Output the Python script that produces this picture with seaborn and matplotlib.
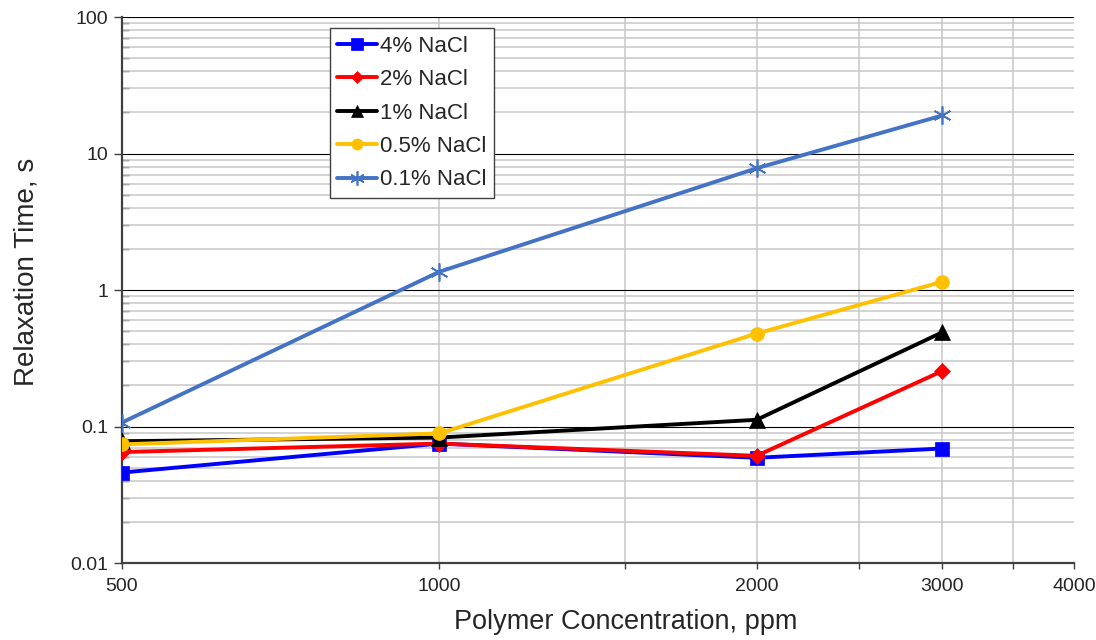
import numpy as np
import pandas as pd
import matplotlib
matplotlib.use("Agg")
import matplotlib.pyplot as plt
import seaborn as sns
from matplotlib.ticker import FixedLocator, NullFormatter, FixedFormatter

# Polymer concentration (ppm) and relaxation time (s) for each brine salinity
concentration = [500, 1000, 2000, 3000]
nacl_4 = [0.046, 0.075, 0.059, 0.069]
nacl_2 = [0.065, 0.075, 0.061, 0.255]
nacl_1 = [0.078, 0.083, 0.112, 0.49]
nacl_05 = [0.074, 0.089, 0.48, 1.15]
nacl_01 = [0.107, 1.36, 7.8, 19.0]

series_labels = ["4% NaCl", "2% NaCl", "1% NaCl", "0.5% NaCl", "0.1% NaCl"]
x_tick_values = [500, 1000, 2000, 3000, 4000]
x_tick_labels = ["500", "1000", "2000", "3000", "4000"]
y_tick_values = [0.01, 0.1, 1, 10, 100]
y_tick_labels = ["0.01", "0.1", "1", "10", "100"]

df = pd.DataFrame({
    "conc": concentration * 5,
    "tau": nacl_4 + nacl_2 + nacl_1 + nacl_05 + nacl_01,
    "series": sum([[s] * len(concentration) for s in series_labels], []),
})

sns.set_theme(style="white")
plt.rcParams["font.family"] = ["Liberation Sans", "DejaVu Sans"]

fig = plt.figure(figsize=(10.96, 6.4), dpi=100)
ax = fig.add_axes([0.1113, 0.1203, 0.8686, 0.8531])

styles = {
    "4% NaCl": dict(color="#0000FF", marker="s", markersize=10),
    "2% NaCl": dict(color="#FF0000", marker="D", markersize=8),
    "1% NaCl": dict(color="#000000", marker="^", markersize=11),
    "0.5% NaCl": dict(color="#FFC000", marker="o", markersize=10),
    "0.1% NaCl": dict(color="#4472C4", marker=(6, 2, 0), markersize=13, markeredgewidth=1.2),
}

for name in series_labels:
    sub = df[df["series"] == name]
    st = styles[name]
    sns.lineplot(data=sub, x="conc", y="tau", ax=ax, label=name,
                 color=st["color"], marker=st["marker"], markersize=st["markersize"],
                 markeredgecolor=st["color"], markeredgewidth=st.get("markeredgewidth", 0.5),
                 linewidth=2.8, zorder=3)

ax.set_xscale("log")
ax.set_yscale("log")
ax.set_xlim(500, 4000)
ax.set_ylim(0.01, 100)

# grid lines
y_minor = [m * 10.0 ** e for e in range(-2, 2) for m in range(2, 10)]
for v in y_minor:
    ax.axhline(v, color="#c8c8c8", lw=1.1, zorder=1)
for v in [0.1, 1, 10, 100]:
    ax.axhline(v, color="#000000", lw=0.8, zorder=1.5)
for v in [1000, 1500, 2000, 2500, 3000, 3500]:
    ax.axvline(v, color="#c8c8c8", lw=1.1, zorder=1)

ax.xaxis.set_major_locator(FixedLocator(x_tick_values))
ax.xaxis.set_major_formatter(FixedFormatter(x_tick_labels))
ax.xaxis.set_minor_locator(FixedLocator([1500, 2500, 3500]))
ax.xaxis.set_minor_formatter(NullFormatter())
ax.yaxis.set_major_locator(FixedLocator(y_tick_values))
ax.yaxis.set_major_formatter(FixedFormatter(y_tick_labels))
ax.yaxis.set_minor_locator(FixedLocator(y_minor))
ax.yaxis.set_minor_formatter(NullFormatter())

ax.tick_params(axis="x", which="both", direction="out", length=4, width=1,
               color="#404040", labelsize=14, pad=7, bottom=True)
ax.tick_params(axis="y", which="major", direction="out", length=6, width=1,
               color="#404040", labelsize=14, pad=4, left=True)
ax.tick_params(axis="y", which="minor", direction="in", length=5, width=1,
               color="#404040", left=True)

for side in ["top", "right"]:
    ax.spines[side].set_visible(False)
for side in ["left", "bottom"]:
    ax.spines[side].set_color("#404040")
    ax.spines[side].set_linewidth(1.6)

ax.set_xlabel("Polymer Concentration, ppm", fontsize=19.5)
ax.set_ylabel("Relaxation Time, s", fontsize=20)
ax.xaxis.set_label_coords(0.529, -0.085)
ax.yaxis.set_label_coords(-0.087, 0.533)

leg = ax.legend(loc="upper left", bbox_to_anchor=(0.218, 0.98), fontsize=16,
                frameon=True, fancybox=False, edgecolor="#404040", framealpha=1,
                handlelength=1.8, handletextpad=0.1, labelspacing=0.56,
                borderpad=0.35, markerscale=0.8, borderaxespad=0)
leg.get_frame().set_linewidth(1.0)

fig.savefig("out.png", dpi=100)
